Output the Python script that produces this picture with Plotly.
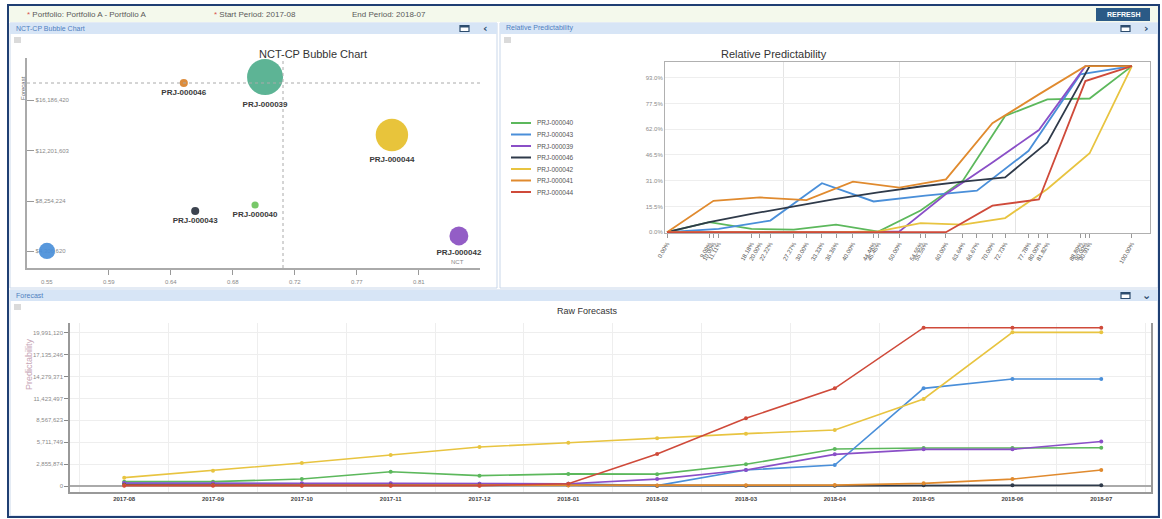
import plotly.graph_objects as go

W, H = 1162, 519


def px(x):
    return x / W


def py(y):
    return 1 - y / H


# ---------------- data ----------------
# NCT-CP bubble chart
bubble_names = ["PRJ-000046", "PRJ-000039", "PRJ-000044", "PRJ-000040", "PRJ-000043", "PRJ-000042", "PRJ-000041"]
bubble_labels = ["PRJ-000046", "PRJ-000039", "PRJ-000044", "PRJ-000040", "PRJ-000043", "PRJ-000042", ""]
bubble_nct = [0.646, 0.703, 0.792, 0.696, 0.654, 0.839, 0.550]
bubble_forecast = [17521549, 17990000, 13440000, 7940000, 7470000, 5510000, 4330000]
bubble_weight = [0.9, 4.0, 3.6, 0.8, 0.9, 2.1, 1.8]
nct_mean = 0.7156
forecast_mean = 17521549
nct_tickvals = [0.55, 0.5935, 0.637, 0.6805, 0.724, 0.7675, 0.811]
nct_ticktext = ["0.55", "0.59", "0.64", "0.68", "0.72", "0.77", "0.81"]
fc_tickvals = [16186420, 12201603, 8254224, 4306620]
fc_ticktext = ["$16,186,420", "$12,201,603", "$8,254,224", "$4,306,620"]

# Relative predictability
elevenths = [0, 9.09, 18.18, 27.27, 36.36, 45.45, 54.55, 63.64, 72.73, 81.82, 90.91, 100]
tenths = [0, 10, 20, 30, 40, 50, 60, 70, 80, 90, 100]
ninths = [0, 11.11, 22.22, 33.33, 44.44, 55.56, 66.67, 77.78, 88.89, 100]
rp_names = ["PRJ-000040", "PRJ-000043", "PRJ-000039", "PRJ-000046", "PRJ-000042", "PRJ-000041", "PRJ-000044"]
rp_x = [elevenths, ninths, tenths, elevenths, elevenths, tenths, tenths]
rp_y = [
    [0, 6, 2, 1.5, 4.5, 0.3, 13, 31, 70, 80, 80.5, 100],
    [0, 2, 7, 29.5, 18.5, 22, 25, 49, 95, 100],
    [0, 0, 0, 0, 0, 0.5, 23, 42, 61.5, 100, 100],
    [0, 6, 11, 15.5, 20, 24, 27.5, 30.5, 33, 54, 100, 100],
    [0, 0, 0, 0, 0, 0.5, 5.5, 4.5, 8.5, 26, 47.5, 100],
    [0, 18.9, 20.9, 19.3, 30.4, 26.8, 31.8, 65.6, 83, 100, 100],
    [0, 0, 0, 0, 0, 0, 0, 16, 19.7, 91, 100],
]
rp_tickvals = sorted(set(elevenths + tenths + ninths))
rp_ticktext = ["%.2f%%" % v for v in rp_tickvals]

# Raw forecasts
months = ["2017-08", "2017-09", "2017-10", "2017-11", "2017-12", "2018-01",
          "2018-02", "2018-03", "2018-04", "2018-05", "2018-06", "2018-07"]
raw_names = ["PRJ-000040", "PRJ-000043", "PRJ-000039", "PRJ-000046", "PRJ-000042", "PRJ-000041", "PRJ-000044"]
raw_values = [
    [570000, 570000, 910000, 1870000, 1350000, 1580000, 1550000, 2830000, 4820000, 4960000, 4960000, 5000000],
    [350000, 300000, 300000, 300000, 300000, 300000, 50000, 2090000, 2740000, 12740000, 13950000, 13950000],
    [400000, 350000, 350000, 350000, 300000, 300000, 900000, 2090000, 4130000, 4780000, 4780000, 5800000],
    [150000, 120000, 100000, 100000, 100000, 100000, 50000, 50000, 50000, 100000, 100000, 100000],
    [1090000, 2000000, 3000000, 4040000, 5090000, 5650000, 6220000, 6830000, 7300000, 11350000, 20040000, 20040000],
    [100000, 100000, 80000, 80000, 80000, 80000, 80000, 100000, 120000, 350000, 900000, 2090000],
    [50000, 50000, 50000, 50000, 50000, 300000, 4170000, 8830000, 12740000, 20650000, 20650000, 20650000],
]
raw_dtick = 19991120 / 7

# ---------------- styles ----------------
bubble_colors = ["#d9822b", "#4fae8c", "#e6bf2a", "#6cc35c", "#2b3340", "#8a4fc1", "#4a8fd9"]
series_colors = {
    "PRJ-000040": "#5cb85c",
    "PRJ-000043": "#4a8fd9",
    "PRJ-000039": "#8a4fc7",
    "PRJ-000046": "#2f3a4a",
    "PRJ-000042": "#e8c440",
    "PRJ-000041": "#e08a2e",
    "PRJ-000044": "#cf4a3a",
}
FONT = "Liberation Sans, Arial, sans-serif"

fig = go.Figure()

# bubble chart
fig.add_trace(go.Scatter(
    x=bubble_nct, y=bubble_forecast, mode="markers+text",
    text=bubble_labels, texttemplate="<b>%{text}</b>", textposition="bottom center",
    textfont=dict(size=8, color="#3a3a3a", family=FONT),
    marker=dict(size=bubble_weight, sizemode="diameter", sizeref=1 / 9,
                color=bubble_colors, opacity=0.92, line=dict(width=0)),
    hovertext=bubble_names, showlegend=False, xaxis="x", yaxis="y", cliponaxis=False,
))

# relative predictability
for name, xs, ys in zip(rp_names, rp_x, rp_y):
    fig.add_trace(go.Scatter(
        x=xs, y=ys, mode="lines", name=name,
        line=dict(color=series_colors[name], width=1.8),
        showlegend=False, xaxis="x2", yaxis="y2",
    ))

# raw forecasts
for name, vals in zip(raw_names, raw_values):
    fig.add_trace(go.Scatter(
        x=list(range(len(months))), y=vals, mode="lines+markers", name=name,
        line=dict(color=series_colors[name], width=1.6),
        marker=dict(size=4, color=series_colors[name]),
        showlegend=False, xaxis="x3", yaxis="y3",
    ))

shapes = []
annotations = []

# outer frame
shapes.append(dict(type="rect", xref="paper", yref="paper", x0=px(8), x1=px(1159), y0=py(517), y1=py(5),
                   line=dict(color="#1f3f73", width=2), fillcolor="rgba(0,0,0,0)", layer="above"))
# top bar
shapes.append(dict(type="rect", xref="paper", yref="paper", x0=px(9), x1=px(1158), y0=py(22), y1=py(6),
                   line=dict(width=0), fillcolor="#f4f9ec", layer="below"))
# panel frames and headers
panels = [(10, 497, 23, 288, "NCT-CP Bubble Chart", "‹"),
          (500, 1158, 23, 288, "Relative Predictability", "›"),
          (10, 1158, 290, 516, "Forecast", "⌄")]
for x0, x1, y0, y1, label, arrow in panels:
    shapes.append(dict(type="rect", xref="paper", yref="paper", x0=px(x0), x1=px(x1), y0=py(y1), y1=py(y0),
                       line=dict(color="#c9d7ea", width=1), fillcolor="white", layer="below"))
    shapes.append(dict(type="rect", xref="paper", yref="paper", x0=px(x0), x1=px(x1), y0=py(y0 + 11), y1=py(y0),
                       line=dict(width=0), fillcolor="#d7e5f6", layer="below"))
    annotations.append(dict(xref="paper", yref="paper", x=px(x0 + 4), y=py(y0 + 5.5), text=label,
                            showarrow=False, xanchor="left", yanchor="middle",
                            font=dict(size=7, color="#4f7fbf", family=FONT)))
    # window icon
    shapes.append(dict(type="rect", xref="paper", yref="paper", x0=px(x1 - 37), x1=px(x1 - 28),
                       y0=py(y0 + 8.5), y1=py(y0 + 2.5), line=dict(color="#2d4c6e", width=1.2),
                       fillcolor="white", layer="above"))
    shapes.append(dict(type="rect", xref="paper", yref="paper", x0=px(x1 - 37), x1=px(x1 - 28),
                       y0=py(y0 + 4.5), y1=py(y0 + 2.5), line=dict(width=0),
                       fillcolor="#2d4c6e", layer="above"))
    annotations.append(dict(xref="paper", yref="paper", x=px(x1 - 12), y=py(y0 + 5.5), text="<b>%s</b>" % arrow,
                            showarrow=False, xanchor="center", yanchor="middle",
                            font=dict(size=11, color="#2d4c6e", family="DejaVu Sans")))
    # menu icon
    for k in range(3):
        shapes.append(dict(type="rect", xref="paper", yref="paper", x0=px(x0 + 4), x1=px(x0 + 11),
                           y0=py(y0 + 15.5 + 2 * k), y1=py(y0 + 14.5 + 2 * k), line=dict(width=0),
                           fillcolor="#b5b5b5", layer="above"))

# top bar texts
top_texts = [(25, "<span style='color:#d9534f'>*</span> Portfolio: Portfolio A - Portfolio A"),
             (212, "<span style='color:#d9534f'>*</span> Start Period: 2017-08"),
             (350, "End Period: 2018-07")]
for x, t in top_texts:
    annotations.append(dict(xref="paper", yref="paper", x=px(x), y=py(14), text=t, showarrow=False,
                            xanchor="left", yanchor="middle", font=dict(size=8, color="#5a5a5a", family=FONT)))
shapes.append(dict(type="rect", xref="paper", yref="paper", x0=px(1096), x1=px(1150), y0=py(21), y1=py(8),
                   line=dict(width=0), fillcolor="#2b5a86", layer="above"))
annotations.append(dict(xref="paper", yref="paper", x=px(1123), y=py(14.5), text="<b>REFRESH</b>", showarrow=False,
                        xanchor="center", yanchor="middle", font=dict(size=7, color="white", family=FONT)))

# chart titles
annotations.append(dict(xref="paper", yref="paper", x=px(257), y=py(46), text="NCT-CP Bubble Chart",
                        showarrow=False, font=dict(size=11, color="#333333", family=FONT)))
annotations.append(dict(xref="paper", yref="paper", x=px(829), y=py(46), text="Relative Predictability",
                        showarrow=False, font=dict(size=11, color="#333333", family=FONT)))
annotations.append(dict(xref="paper", yref="paper", x=px(587), y=py(311), text="Raw Forecasts",
                        showarrow=False, font=dict(size=9, color="#333333", family=FONT)))

# axis titles
annotations.append(dict(xref="paper", yref="paper", x=px(18), y=py(74), text="Forecast", textangle=-90,
                        showarrow=False, font=dict(size=6, color="#666666", family=FONT)))
annotations.append(dict(xref="paper", yref="paper", x=px(466), y=py(262), text="NCT", xanchor="right",
                        showarrow=False, font=dict(size=6, color="#888888", family=FONT)))
annotations.append(dict(xref="paper", yref="paper", x=px(22), y=py(392), text="Predictability", textangle=-90,
                        showarrow=False, font=dict(size=9, color="#c7a6b6", family=FONT)))

# bubble x tick labels (drawn as annotations so none gets hidden by the inside y labels)
for v, t in zip(nct_tickvals, nct_ticktext):
    annotations.append(dict(xref="x", yref="paper", x=v, y=py(282), text=t, showarrow=False,
                            xanchor="center", yanchor="middle", font=dict(size=6, color="#8a8a8a", family=FONT)))

# bubble reference lines
shapes.append(dict(type="line", xref="x", yref="y domain", x0=nct_mean, x1=nct_mean, y0=0, y1=1,
                   line=dict(color="#aaaaaa", width=1, dash="dot")))
shapes.append(dict(type="line", xref="x domain", yref="y", x0=0, x1=1, y0=forecast_mean, y1=forecast_mean,
                   line=dict(color="#aaaaaa", width=1, dash="dot")))

# relative predictability legend (manual, compact)
for i, name in enumerate(rp_names):
    yy = 123 + i * 11.5
    shapes.append(dict(type="line", xref="paper", yref="paper", x0=px(511), x1=px(531), y0=py(yy), y1=py(yy),
                       line=dict(color=series_colors[name], width=2)))
    annotations.append(dict(xref="paper", yref="paper", x=px(535), y=py(yy), text=name, showarrow=False,
                            xanchor="left", yanchor="middle", font=dict(size=6.5, color="#555555", family=FONT)))

axis_font = dict(size=6, color="#8a8a8a", family=FONT)

fig.update_layout(
    width=W, height=H, margin=dict(l=0, r=0, t=0, b=0, pad=0, autoexpand=False),
    paper_bgcolor="white", plot_bgcolor="rgba(0,0,0,0)",
    font=dict(family=FONT),
    shapes=shapes, annotations=annotations,
    xaxis=dict(domain=[px(27), px(480)], range=[0.536, 0.8538], anchor="y", automargin=False,
               tickmode="array", tickvals=nct_tickvals, showticklabels=False,
               ticks="outside", ticklen=5, tickcolor="#999999",
               showline=True, linecolor="#aaaaaa", linewidth=1.5, showgrid=False, zeroline=False),
    yaxis=dict(domain=[py(268), py(58)], range=[2992200, 19485000], anchor="x", automargin=False,
               tickmode="array", tickvals=fc_tickvals, ticktext=fc_ticktext,
               ticks="inside", ticklen=7, tickcolor="#999999", ticklabelposition="inside",
               tickfont=axis_font, layer="below traces",
               showline=True, linecolor="#aaaaaa", linewidth=1.5, showgrid=False, zeroline=False),
    xaxis2=dict(domain=[px(665), px(1150)], range=[-0.43, 103.9], anchor="y2", automargin=False,
                tickmode="array", tickvals=rp_tickvals, ticktext=rp_ticktext, tickangle=-60,
                ticks="outside", ticklen=4, tickcolor="#999999",
                tickfont=dict(size=6, color="#555555", family=FONT),
                showline=True, linecolor="#b0b0b0", mirror=True, showgrid=False, zeroline=False,
                minor=dict(tickmode="array", tickvals=[25, 50, 75], showgrid=True,
                           gridcolor="#e4e4e4", ticklen=0)),
    yaxis2=dict(domain=[py(233), py(62)], range=[-0.5, 102.5], anchor="x2", automargin=False,
                tick0=0, dtick=15.5, tickformat=".1f", ticksuffix="%", tickfont=axis_font,
                showline=True, linecolor="#b0b0b0", mirror=True, showgrid=True, gridcolor="#eeeeee",
                zeroline=False),
    xaxis3=dict(domain=[px(70), px(1151)], range=[-0.61, 11.56], anchor="y3", automargin=False,
                tickmode="array", tickvals=list(range(len(months))),
                ticktext=["<b>%s</b>" % m for m in months],
                tickfont=dict(size=6, color="#444444", family=FONT), ticks="",
                showline=True, linecolor="#999999", linewidth=1.5, mirror=False, showgrid=False, zeroline=False,
                minor=dict(tick0=0.5, dtick=1, showgrid=True, gridcolor="#eeeeee", ticklen=0)),
    yaxis3=dict(domain=[py(492), py(323)], range=[-780000, 21260000], anchor="x3", automargin=False,
                tick0=0, dtick=raw_dtick, tickformat=",.0f", ticks="outside", ticklen=4, tickcolor="#888888",
                tickfont=axis_font, showline=True, linecolor="#999999", linewidth=1.5, mirror=True,
                showgrid=True, gridcolor="#eeeeee", zeroline=True, zerolinecolor="#aaaaaa", zerolinewidth=1.5),
)

fig.write_html("out.html")
